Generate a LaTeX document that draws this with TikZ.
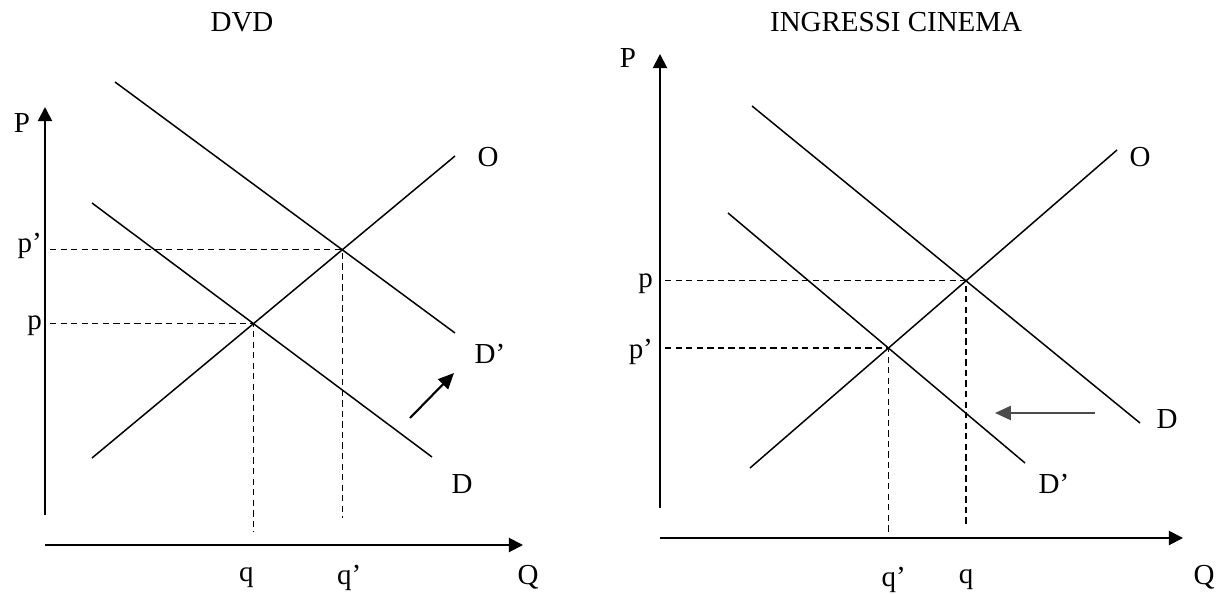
\documentclass[tikz,border=0pt]{standalone}
\usepackage{fontspec}
\setmainfont{Liberation Serif}
\usetikzlibrary{arrows.meta}

\begin{document}
\begin{tikzpicture}[x=0.02cm, y=-0.02cm,
  curve/.style={line width=0.85pt},
  axis/.style={line width=1.1pt, -{Triangle[length=8pt,width=8pt]}},
  guide/.style={line width=0.75pt, dash pattern=on 3.6pt off 2.4pt},
  movearrow/.style={line width=1.2pt, -{Triangle[length=9pt,width=8pt]}},
  lbl/.style={font=\fontsize{16.5}{19}\selectfont, inner sep=1pt}]
\useasboundingbox (0,0) rectangle (1219,594);

% DVD: demand moves right
\node[lbl] (tdvd) at (242,22) {DVD};

\coordinate (y1a) at (45,515);
\coordinate (y1b) at (45,107);
\coordinate (x1a) at (45,545);
\coordinate (x1b) at (523,545);
\draw[axis] (y1a) -- (y1b);
\draw[axis] (x1a) -- (x1b);
\node[lbl] (P1) at (22,123) {P};
\node[lbl] (Q1) at (528,577) {Q};

\coordinate (O1a) at (92,458);  \coordinate (O1b) at (455,156);
\coordinate (D1a) at (92,203);  \coordinate (D1b) at (432,457);
\coordinate (Dp1a) at (115,82); \coordinate (Dp1b) at (455,333);
\draw[curve] (O1a) -- (O1b);
\draw[curve] (D1a) -- (D1b);
\draw[curve] (Dp1a) -- (Dp1b);
\node[lbl] (O1) at (488,157) {O};
\node[lbl] (D1) at (462,484) {D};
\node[lbl] (Dp1) at (490,354) {D’};

\coordinate (E1) at (intersection of O1a--O1b and D1a--D1b);
\coordinate (E1p) at (intersection of O1a--O1b and Dp1a--Dp1b);
\coordinate (g1) at (50,532);
\coordinate (g1p) at (50,518);
\coordinate (ql1) at (0,578);
\draw[guide] (g1 |- E1) -- (E1) -- (E1 |- g1);
\draw[guide] (g1p |- E1p) -- (E1p) -- (E1p |- g1p);
\node[lbl, anchor=east] (p1) at (44,326) {p};
\node[lbl, anchor=east] (pp1) at (44,246) {p’};
\node[lbl, xshift=-4pt] (q1) at (E1 |- ql1) {q};
\node[lbl, xshift=4pt] (qp1) at (E1p |- ql1) {q’};

\coordinate (s1a) at (410,418);
\coordinate (s1b) at (454,373);
\draw[movearrow] (s1a) -- (s1b);

% INGRESSI CINEMA: demand moves left
\node[lbl, anchor=west] (tcin) at (768,22) {INGRESSI CINEMA};

\coordinate (y2a) at (660,508);
\coordinate (y2b) at (660,54);
\coordinate (x2a) at (660,538);
\coordinate (x2b) at (1183,538);
\draw[axis] (y2a) -- (y2b);
\draw[axis] (x2a) -- (x2b);
\node[lbl] (P2) at (628,58) {P};
\node[lbl] (Q2) at (1204,577) {Q};

\coordinate (O2a) at (750,468);  \coordinate (O2b) at (1117,150);
\coordinate (D2a) at (752,106);  \coordinate (D2b) at (1140,423);
\coordinate (Dp2a) at (728,213); \coordinate (Dp2b) at (1025,463);
\draw[curve] (O2a) -- (O2b);
\draw[curve] (D2a) -- (D2b);
\draw[curve] (Dp2a) -- (Dp2b);
\node[lbl] (O2) at (1140,157) {O};
\node[lbl] (D2) at (1167,419) {D};
\node[lbl] (Dp2) at (1054,484) {D’};

\coordinate (E2) at (intersection of O2a--O2b and D2a--D2b);
\coordinate (E2p) at (intersection of O2a--O2b and Dp2a--Dp2b);
\coordinate (g2) at (665,527);
\coordinate (g2p) at (665,533);
\coordinate (ql2) at (0,580);
\draw[guide] (g2 |- E2) -- (E2) -- (E2 |- g2);
\draw[guide] (g2p |- E2p) -- (E2p) -- (E2p |- g2p);
\node[lbl, anchor=east] (p2) at (655,284) {p};
\node[lbl, anchor=east] (pp2) at (655,352) {p’};
\node[lbl] (q2) at (E2 |- ql2) {q};
\node[lbl, xshift=3pt] (qp2) at (E2p |- ql2) {q’};

\coordinate (s2a) at (1095,413);
\coordinate (s2b) at (995,413);
\draw[movearrow, gray!60!black] (s2a) -- (s2b);

\end{tikzpicture}
\end{document}
